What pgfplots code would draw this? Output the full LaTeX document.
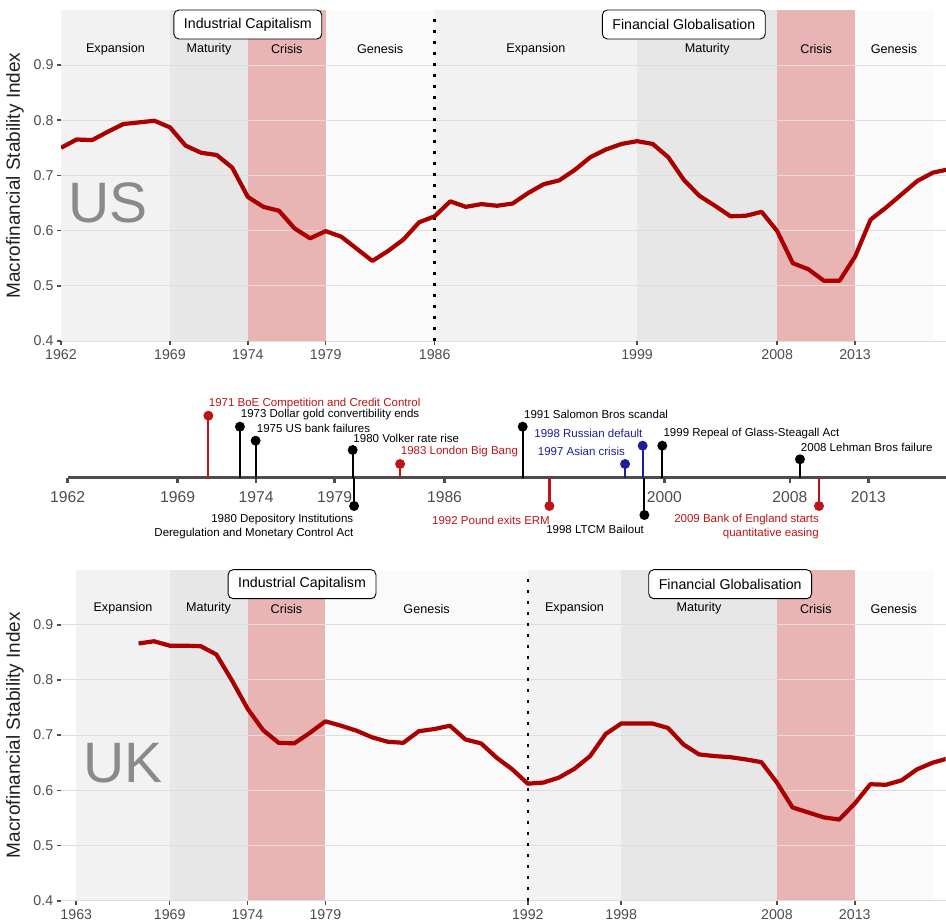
\documentclass[border=0pt]{standalone}
\usepackage{fontspec}
\setmainfont{Liberation Sans}
\usepackage{pgfplots}
\pgfplotsset{compat=1.18}
\definecolor{linered}{HTML}{AA0000}
\definecolor{expcol}{HTML}{F2F2F2}
\definecolor{matcol}{HTML}{E7E7E7}
\definecolor{cricol}{HTML}{E8B4B4}
\definecolor{gencol}{HTML}{FAFAFA}
\definecolor{evred}{HTML}{BE1419}
\definecolor{evblue}{HTML}{1E1E9A}
\definecolor{tickgray}{HTML}{4D4D4D}
\definecolor{gridgray}{HTML}{DEDEDE}
\definecolor{biggray}{HTML}{8A8A8A}

\pgfplotsset{
  panel/.style={
    scale only axis, width=885pt, height=331.2pt,
    xmin=1962, xmax=2018.84, ymin=0.4, ymax=1.0,
    anchor=south west,
    set layers, clip mode=individual,
    axis line style={draw=none},
    ytick={0.4,0.5,0.6,0.7,0.8,0.9},
    yticklabels={0.4,0.5,0.6,0.7,0.8,0.9},
    ymajorgrids, grid style={gridgray, line width=0.9pt},
    tick align=outside, major tick length=4pt,
    xtick pos=bottom, ytick pos=left,
    tick style={tickgray, line width=1.6pt},
    ticklabel style={font=\fontsize{14.2}{16}\selectfont, text=tickgray},
    xticklabel style={yshift=-1pt},
    /pgf/number format/assume math mode=true,
  },
  rect/.style={fill=#1, draw=none, on layer=axis background},
}
\tikzset{
  phase/.style={font=\fontsize{12.6}{14}\selectfont},
  era/.style={draw=black, fill=white, rounded corners=5pt, line width=0.9pt,
    minimum height=29pt, inner xsep=10pt, inner ysep=0pt, font=\fontsize{14.2}{16}\selectfont},
  big/.style={anchor=west, inner sep=0pt, text=biggray, font=\fontsize{57}{60}\selectfont},
  evl/.style={inner sep=0pt, font=\fontsize{11.5}{14}\selectfont},
}

\pgfplotstableread{
year value
1962 0.750
1963 0.765
1964 0.764
1965 0.779
1966 0.793
1967 0.796
1968 0.799
1969 0.787
1970 0.754
1971 0.741
1972 0.737
1973 0.714
1974 0.661
1975 0.643
1976 0.636
1977 0.604
1978 0.586
1979 0.599
1980 0.589
1981 0.567
1982 0.545
1983 0.563
1984 0.584
1985 0.615
1986 0.626
1987 0.653
1988 0.643
1989 0.648
1990 0.645
1991 0.649
1992 0.668
1993 0.684
1994 0.691
1995 0.710
1996 0.733
1997 0.747
1998 0.757
1999 0.762
2000 0.757
2001 0.733
2002 0.692
2003 0.663
2004 0.645
2005 0.626
2006 0.627
2007 0.634
2008 0.599
2009 0.541
2010 0.530
2011 0.509
2012 0.509
2013 0.553
2014 0.620
2015 0.642
2016 0.666
2017 0.690
2018 0.705
2019 0.711
}\usdata

\pgfplotstableread{
year value
1967 0.866
1968 0.870
1969 0.862
1970 0.862
1971 0.861
1972 0.846
1973 0.799
1974 0.748
1975 0.709
1976 0.686
1977 0.685
1978 0.704
1979 0.725
1980 0.717
1981 0.708
1982 0.696
1983 0.688
1984 0.686
1985 0.707
1986 0.711
1987 0.717
1988 0.692
1989 0.685
1990 0.659
1991 0.638
1992 0.612
1993 0.614
1994 0.623
1995 0.639
1996 0.662
1997 0.702
1998 0.721
1999 0.721
2000 0.721
2001 0.713
2002 0.683
2003 0.665
2004 0.662
2005 0.660
2006 0.656
2007 0.651
2008 0.614
2009 0.569
2010 0.560
2011 0.551
2012 0.547
2013 0.576
2014 0.611
2015 0.610
2016 0.618
2017 0.638
2018 0.650
2019 0.658
}\ukdata

\begin{document}
\begin{tikzpicture}

% ---------------- US panel ----------------
\begin{axis}[panel, at={(61pt,-341pt)},
  xtick={1962,1969,1974,1979,1986,1999,2008,2013},
  xticklabels={1962,1969,1974,1979,1986,1999,2008,2013}]
\addplot[rect=expcol] coordinates {(1962,0.4) (1969,0.4) (1969,1) (1962,1)} -- cycle;
\addplot[rect=matcol] coordinates {(1969,0.4) (1974,0.4) (1974,1) (1969,1)} -- cycle;
\addplot[rect=cricol] coordinates {(1974,0.4) (1979,0.4) (1979,1) (1974,1)} -- cycle;
\addplot[rect=gencol] coordinates {(1979,0.4) (1986,0.4) (1986,1) (1979,1)} -- cycle;
\addplot[rect=expcol] coordinates {(1986,0.4) (1999,0.4) (1999,1) (1986,1)} -- cycle;
\addplot[rect=matcol] coordinates {(1999,0.4) (2008,0.4) (2008,1) (1999,1)} -- cycle;
\addplot[rect=cricol] coordinates {(2008,0.4) (2013,0.4) (2013,1) (2008,1)} -- cycle;
\addplot[rect=gencol] coordinates {(2013,0.4) (2018,0.4) (2018,1) (2013,1)} -- cycle;
\addplot[black, line width=2.6pt, dash pattern=on 2.6pt off 8.4pt] coordinates {(1986,0.4) (1986,0.995)};
\addplot[linered, line width=4.2pt, line join=round] table[x=year, y=value] {\usdata};
\node[phase] at (axis cs:1965.5,0.929) {Expansion};
\node[phase] at (axis cs:1971.5,0.929) {Maturity};
\node[phase] at (axis cs:1976.5,0.929) {Crisis};
\node[phase] at (axis cs:1982.5,0.929) {Genesis};
\node[phase] at (axis cs:1992.5,0.929) {Expansion};
\node[phase] at (axis cs:2003.5,0.929) {Maturity};
\node[phase] at (axis cs:2010.5,0.929) {Crisis};
\node[phase] at (axis cs:2015.5,0.929) {Genesis};
\node[era] at (axis cs:1974,0.9734) {Industrial Capitalism};
\node[era] at (axis cs:2002,0.9734) {Financial Globalisation};
\node[big] at (axis cs:1962.45,0.65) {US};
\end{axis}
\node[rotate=90, font=\fontsize{19}{20}\selectfont, text=black!88] at (15pt,-175.5pt) {Macrofinancial Stability Index};

% ---------------- Timeline ----------------
\begin{axis}[at={(67.7pt,-558pt)}, anchor=south west,
  scale only axis, width=878.3pt, height=170pt,
  xmin=1962, xmax=2017.94, ymin=-80, ymax=90,
  axis x line=middle, axis y line=none,
  axis line style={-, line width=3pt, tickgray},
  xtick={1962,1969,1974,1979,1986,2000,2008,2013},
  xticklabels={1962,1969,1974,1979,1986,2000,2008,2013},
  tick align=outside, major tick length=5.5pt,
  tick style={tickgray, line width=2.4pt},
  xticklabel style={font=\fontsize{15.7}{17}\selectfont, text=tickgray, yshift=-5pt},
  /pgf/number format/assume math mode=true,
  clip=false]
\addplot[ycomb, evred, line width=2.2pt, mark=*, mark size=3.8pt, mark options={solid, fill=evred}]
  coordinates {(1970.96,62.3) (1983.17,14) (1992.68,-28) (2009.85,-28)};
\addplot[ycomb, black, line width=2.2pt, mark=*, mark size=3.8pt, mark options={solid, fill=black}]
  coordinates {(1972.97,51.3) (1973.97,37.3) (1980.15,28) (1980.24,-28) (1990.98,51.3) (1998.73,-37) (1999.87,32.3) (2008.64,18.7)};
\addplot[ycomb, evblue, line width=2.2pt, mark=*, mark size=3.8pt, mark options={solid, fill=evblue}]
  coordinates {(1997.5,14) (1998.62,32.3)};
\node[evl, anchor=west, text=evred] at (axis cs:1970.98,74.7) {1971 BoE Competition and Credit Control};
\node[evl, anchor=west] at (axis cs:1973.02,63.7) {1973 Dollar gold convertibility ends};
\node[evl, anchor=west] at (axis cs:1974.04,49.7) {1975 US bank failures};
\node[evl, anchor=west] at (axis cs:1980.19,39.7) {1980 Volker rate rise};
\node[evl, anchor=west, text=evred] at (axis cs:1983.21,26.3) {1983 London Big Bang};
\node[evl, anchor=west] at (axis cs:1991.06,63.7) {1991 Salomon Bros scandal};
\node[evl, anchor=west] at (axis cs:1999.94,44.7) {1999 Repeal of Glass-Steagall Act};
\node[evl, anchor=west] at (axis cs:2008.69,30.3) {2008 Lehman Bros failure};
\node[evl, anchor=east, text=evblue] at (axis cs:1997.5,26.3) {1997 Asian crisis};
\node[evl, anchor=east, text=evblue] at (axis cs:1998.62,44.7) {1998 Russian default};
\node[evl, anchor=east, align=right] at (axis cs:1980.2,-49) {1980 Depository Institutions\\Deregulation and Monetary Control Act};
\node[evl, anchor=east, text=evred] at (axis cs:1992.72,-42) {1992 Pound exits ERM};
\node[evl, anchor=east] at (axis cs:1998.71,-51) {1998 LTCM Bailout};
\node[evl, anchor=east, align=right, text=evred] at (axis cs:2009.85,-49) {2009 Bank of England starts\\quantitative easing};
\end{axis}

% ---------------- UK panel ----------------
\begin{axis}[panel, at={(60.7pt,-900.7pt)},
  xtick={1963,1969,1974,1979,1992,1998,2008,2013},
  xticklabels={1963,1969,1974,1979,1992,1998,2008,2013}]
\addplot[rect=expcol] coordinates {(1963,0.4) (1969,0.4) (1969,1) (1963,1)} -- cycle;
\addplot[rect=matcol] coordinates {(1969,0.4) (1974,0.4) (1974,1) (1969,1)} -- cycle;
\addplot[rect=cricol] coordinates {(1974,0.4) (1979,0.4) (1979,1) (1974,1)} -- cycle;
\addplot[rect=gencol] coordinates {(1979,0.4) (1992,0.4) (1992,1) (1979,1)} -- cycle;
\addplot[rect=expcol] coordinates {(1992,0.4) (1998,0.4) (1998,1) (1992,1)} -- cycle;
\addplot[rect=matcol] coordinates {(1998,0.4) (2008,0.4) (2008,1) (1998,1)} -- cycle;
\addplot[rect=cricol] coordinates {(2008,0.4) (2013,0.4) (2013,1) (2008,1)} -- cycle;
\addplot[rect=gencol] coordinates {(2013,0.4) (2018,0.4) (2018,1) (2013,1)} -- cycle;
\addplot[black, line width=2.6pt, dash pattern=on 2.6pt off 8.4pt] coordinates {(1992,0.4) (1992,0.995)};
\addplot[linered, line width=4.2pt, line join=round] table[x=year, y=value] {\ukdata};
\node[phase] at (axis cs:1966,0.929) {Expansion};
\node[phase] at (axis cs:1971.5,0.929) {Maturity};
\node[phase] at (axis cs:1976.5,0.929) {Crisis};
\node[phase] at (axis cs:1985.5,0.929) {Genesis};
\node[phase] at (axis cs:1995,0.929) {Expansion};
\node[phase] at (axis cs:2003,0.929) {Maturity};
\node[phase] at (axis cs:2010.5,0.929) {Crisis};
\node[phase] at (axis cs:2015.5,0.929) {Genesis};
\node[era] at (axis cs:1977.5,0.9734) {Industrial Capitalism};
\node[era] at (axis cs:2005,0.9734) {Financial Globalisation};
\node[big] at (axis cs:1963.45,0.649) {UK};
\end{axis}
\node[rotate=90, font=\fontsize{19}{20}\selectfont, text=black!88] at (15pt,-735pt) {Macrofinancial Stability Index};

\pgfresetboundingbox
\useasboundingbox (0pt,-923pt) rectangle (946pt,0pt);
\end{tikzpicture}
\end{document}
